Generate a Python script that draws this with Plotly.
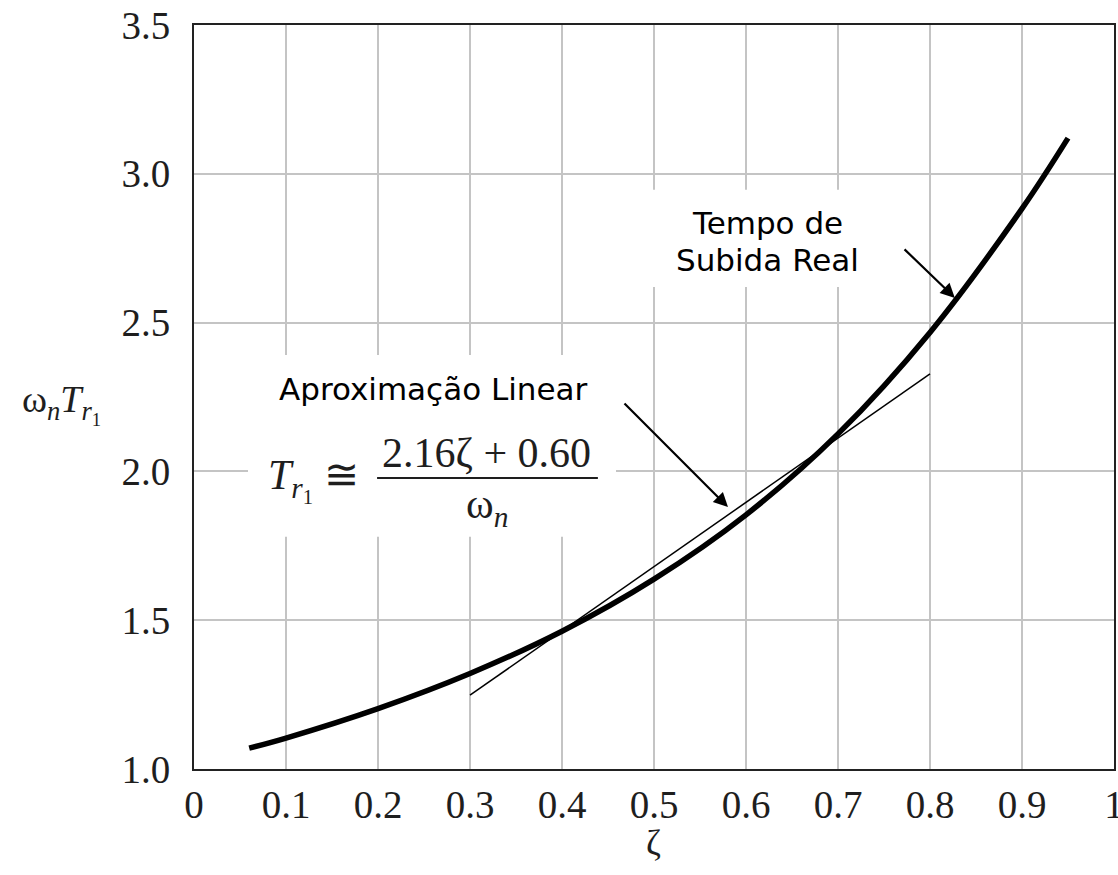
import plotly.graph_objects as go

# Normalized rise time (10%-90%) versus damping ratio
zeta = [0.06, 0.1, 0.2, 0.3, 0.4, 0.5, 0.6, 0.7, 0.8, 0.9, 0.95]
wn_tr = [1.07, 1.104, 1.203, 1.321, 1.463, 1.638, 1.854, 2.126, 2.467, 2.883, 3.12]

# Linear approximation  wn*Tr = 2.16*zeta + 0.60, drawn over 0.3..0.8
lin_slope = 2.16
lin_intercept = 0.60
lin_zeta = [0.3, 0.8]
lin_vals = [lin_slope * z + lin_intercept for z in lin_zeta]

x_ticks = [0, 0.1, 0.2, 0.3, 0.4, 0.5, 0.6, 0.7, 0.8, 0.9, 1.0]
x_ticktext = ["0", "0.1", "0.2", "0.3", "0.4", "0.5", "0.6", "0.7", "0.8", "0.9", "1"]
y_ticks = [1.0, 1.5, 2.0, 2.5, 3.0, 3.5]
y_ticktext = ["1.0", "1.5", "2.0", "2.5", "3.0", "3.5"]

SERIF = "Liberation Serif"
SANS = "DejaVu Sans"
INK = "#1e1e1e"

fig = go.Figure()

fig.add_trace(go.Scatter(
    x=lin_zeta, y=lin_vals, mode="lines",
    line=dict(color="black", width=1.5), showlegend=False, hoverinfo="skip",
))
fig.add_trace(go.Scatter(
    x=zeta, y=wn_tr, mode="lines",
    line=dict(color="black", width=5.5, shape="spline"), showlegend=False,
))

# white backing boxes behind the text blocks (hide grid lines, keep curves)
fig.add_shape(type="rect", xref="x", yref="y", x0=0.0587, x1=0.4587, y0=1.78, y1=2.391,
              fillcolor="white", line=dict(width=0), layer="between")
fig.add_shape(type="rect", xref="x", yref="y", x0=0.49, x1=0.74, y0=2.62, y1=2.946,
              fillcolor="white", line=dict(width=0), layer="between")

# fraction bar of the formula
fig.add_shape(type="line", xref="x", yref="y", x0=0.199, x1=0.439, y0=1.978, y1=1.978,
              line=dict(color=INK, width=2), layer="above")

ann = []
ann.append(dict(x=0.26, y=2.277, xref="x", yref="y", text="Aproximação Linear",
                showarrow=False, font=dict(family=SANS, size=31, color="black")))
ann.append(dict(x=0.623, y=2.835, xref="x", yref="y", text="Tempo de",
                showarrow=False, font=dict(family=SANS, size=31, color="black")))
ann.append(dict(x=0.623, y=2.71, xref="x", yref="y", text="Subida Real",
                showarrow=False, font=dict(family=SANS, size=31, color="black")))
# arrows
ann.append(dict(x=0.5804, y=1.88, ax=0.4663, ay=2.233, xref="x", yref="y", axref="x", ayref="y",
                text="", showarrow=True, arrowhead=2, arrowsize=1.3, arrowwidth=2.2,
                arrowcolor="black"))
ann.append(dict(x=0.827, y=2.583, ax=0.7707, ay=2.751, xref="x", yref="y", axref="x", ayref="y",
                text="", showarrow=True, arrowhead=2, arrowsize=1.3, arrowwidth=2.2,
                arrowcolor="black"))
# formula
ann.append(dict(x=0.13, y=1.971, xref="x", yref="y",
                text="<i>T</i><sub><i>r</i><sub>1</sub></sub> ≅", showarrow=False,
                font=dict(family=SERIF, size=42, color=INK)))
ann.append(dict(x=0.318, y=2.062, xref="x", yref="y", text="2.16ζ + 0.60", showarrow=False,
                font=dict(family=SERIF, size=42, color=INK)))
ann.append(dict(x=0.318, y=1.88, xref="x", yref="y", text="ω<sub><i>n</i></sub>", showarrow=False,
                font=dict(family=SERIF, size=42, color=INK)))
# axis titles
ann.append(dict(x=0.499, y=-0.1, xref="paper", yref="paper", text="ζ", showarrow=False,
                yanchor="middle", font=dict(family=SERIF, size=36, color=INK)))
ann.append(dict(x=-0.1435, y=0.49, xref="paper", yref="paper", xanchor="center",
                text="ω<sub><i>n</i></sub><i>T</i><sub><i>r</i><sub>1</sub></sub>", showarrow=False,
                yanchor="middle", font=dict(family=SERIF, size=38, color=INK)))

axis_common = dict(
    showline=True, linecolor="#222", linewidth=2, mirror=True,
    showgrid=True, gridcolor="#c4c4c4", gridwidth=1.5,
    zeroline=False, ticks="", automargin=False,
    tickfont=dict(family=SERIF, size=39, color=INK),
    ticklabeloverflow="allow",
)

fig.update_xaxes(range=[0, 1], tickvals=x_ticks, ticktext=x_ticktext, ticklabelstandoff=0,
                 **axis_common)
fig.update_yaxes(range=[1.0, 3.5], tickvals=y_ticks, ticktext=y_ticktext, ticklabelstandoff=14,
                 **axis_common)

fig.update_layout(
    width=1118, height=875,
    margin=dict(l=194, r=4, t=25, b=106),
    paper_bgcolor="white", plot_bgcolor="white",
    annotations=ann,
    showlegend=False,
)

fig.write_html("out.html")
